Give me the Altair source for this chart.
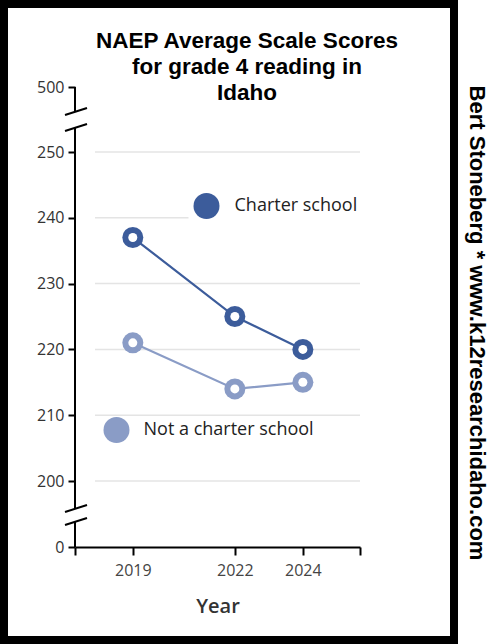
import altair as alt
import pandas as pd

# ---- data ----
years = [2019, 2022, 2024]
charter_scores = [237, 225, 220]
noncharter_scores = [221, 214, 215]
series_names = ["Charter school", "Not a charter school"]
series_colors = ["#3C5C9B", "#8A9CC6"]
y_tick_values = [0, 200, 210, 220, 230, 240, 250, 500]
grid_values = [200, 210, 220, 230, 240, 250]
x_label_years = [2019, 2022, 2024]
title_lines = ["NAEP Average Scale Scores", "for grade 4 reading in", "Idaho"]
credit = "Bert Stoneberg * www.k12researchidaho.com"

W, H = 500, 644
X0, X1 = 75, 360          # x axis extent (pixels)
Y_BASE = 547              # x axis line position

charter_df = pd.DataFrame({"Year": years, "Score": charter_scores, "Series": series_names[0]})
non_df = pd.DataFrame({"Year": years, "Score": noncharter_scores, "Series": series_names[1]})
grid_df = pd.DataFrame({"Score": grid_values})

x_dom = [2017.3, 2025.68]
x_scale = alt.Scale(domain=x_dom, range=[X0, X1], nice=False, zero=False)
# broken axis: piecewise linear scale
y_scale = alt.Scale(domain=[0, 200, 250, 500], range=[Y_BASE, 481, 152, 87], nice=False, zero=False)

x_axis = alt.Axis(
    values=[x_dom[0]] + x_label_years + [x_dom[1]], format="d",
    labelExpr="indexof([2019, 2022, 2024], datum.value) >= 0 ? datum.label : ''",
    orient="bottom", offset=-(H - Y_BASE), grid=False,
    domainColor="black", domainWidth=2, tickColor="black", tickWidth=2, tickSize=8,
    labelFont="Open Sans", labelFontSize=16, labelColor="#444", labelPadding=7,
    labelOverlap=False, labelFlush=False,
    title="Year", titleFont="Open Sans", titleFontSize=20, titleFontWeight=600,
    titleColor="#333", titlePadding=18,
)
y_axis = alt.Axis(
    values=y_tick_values, orient="left", offset=-X0, grid=False, domain=False,
    tickColor="black", tickWidth=2, tickSize=7,
    labelFont="Open Sans", labelFontSize=16, labelColor="#333", labelPadding=4,
    labelOverlap=False, title=None,
)

X = alt.X("Year:Q", scale=x_scale, axis=x_axis)
Y = alt.Y("Score:Q", scale=y_scale, axis=y_axis)

one = alt.Data(values=[{}])


def rule(x, y, x2, y2, w=2):
    return alt.Chart(one).mark_rule(color="black", strokeWidth=w).encode(
        x=alt.value(x), y=alt.value(y), x2=alt.value(x2), y2=alt.value(y2))


grid = alt.Chart(grid_df).mark_rule(color="#e4e4e4", strokeWidth=1.5).encode(
    y=Y, x=alt.value(95), x2=alt.value(X1))


def series(df, name, color, lx, ly, loff, pad, fill):
    cscale = alt.Scale(domain=[name], range=[color])
    line = alt.Chart(df).mark_line(strokeWidth=2.2, color=color).encode(x=X, y=Y)
    lg = dict(
        orient="none", legendX=lx, legendY=ly, title=None,
        symbolType="circle", symbolSize=676, symbolOpacity=1, symbolStrokeWidth=0,
        labelFont="Open Sans", labelFontSize=18, labelColor="#222", labelLimit=400,
        labelOffset=loff, padding=pad)
    if fill:
        lg["fillColor"] = "white"
    dots = alt.Chart(df).mark_circle(size=441, opacity=1).encode(
        x=X, y=Y,
        color=alt.Color("Series:N", scale=cscale, legend=alt.Legend(**lg)))
    holes = alt.Chart(df).mark_circle(size=81, color="white", opacity=1).encode(x=X, y=Y)
    return alt.layer(line, dots, holes)


non_layer = series(non_df, series_names[1], series_colors[1], 103.5, 417, 14, 0, False)
charter_layer = series(charter_df, series_names[0], series_colors[0], 188.5, 188, 15, 5, True)

title = alt.Chart(one).mark_text(
    text=title_lines, font="Liberation Sans", fontSize=22.5, fontWeight="bold",
    lineHeight=26, align="center", baseline="alphabetic", color="black",
).encode(x=alt.value(247), y=alt.value(48))

side = alt.Chart(one).mark_text(
    text=credit, font="Liberation Sans", fontSize=22, fontWeight="bold",
    angle=90, align="center", baseline="middle", color="black",
).encode(x=alt.value(477), y=alt.value(323))

frame = alt.Chart(one).mark_rect(filled=False, color="black", strokeWidth=8).encode(
    x=alt.value(4), x2=alt.value(454), y=alt.value(4), y2=alt.value(640))

axis_parts = [
    rule(X0, 87, X0, 111), rule(X0, 127, X0, 509), rule(X0, 521, X0, Y_BASE),
    rule(65, 115, 87, 108), rule(65, 131, 87, 124),
    rule(65, 512, 87, 505), rule(65, 525, 87, 518),
]

chart = alt.layer(
    grid, *axis_parts, non_layer, charter_layer, title, side, frame
).resolve_scale(color="independent").properties(
    width=W, height=H, autosize=alt.AutoSizeParams(type="none"), padding=0,
    background="white",
).configure_view(strokeWidth=0)

chart.save("out.html", embed_options={"renderer": "svg", "actions": False})
